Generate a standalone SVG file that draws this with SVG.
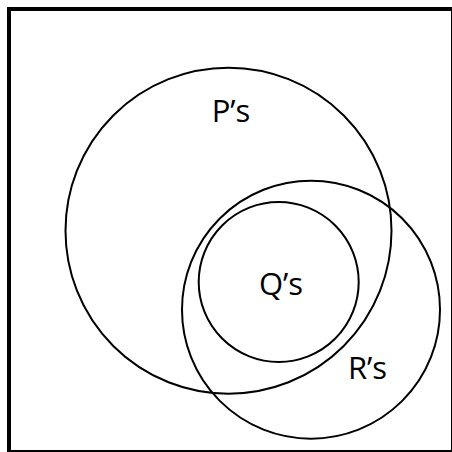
<svg xmlns="http://www.w3.org/2000/svg" width="452" height="452" viewBox="0 0 452 452">
<style>
.c{fill:none;stroke:#000;stroke-width:2}
.t{font-family:"Open Sans","Noto Sans",sans-serif;font-size:31px;fill:#000;text-anchor:middle}
</style>
<rect x="0" y="0" width="452" height="452" fill="#fff"/>
<rect x="9" y="9" width="444" height="443" fill="none" stroke="#000" stroke-width="4"/>
<g id="P"><circle class="c" cx="228.5" cy="230.7" r="163"/><text class="t" x="231" y="122">P’s</text></g>
<g id="R"><circle class="c" cx="311" cy="309.7" r="129"/><text class="t" x="367.5" y="379">R’s</text></g>
<g id="Q"><circle class="c" cx="278.7" cy="282" r="80"/><text class="t" x="281" y="295">Q’s</text></g>
</svg>
